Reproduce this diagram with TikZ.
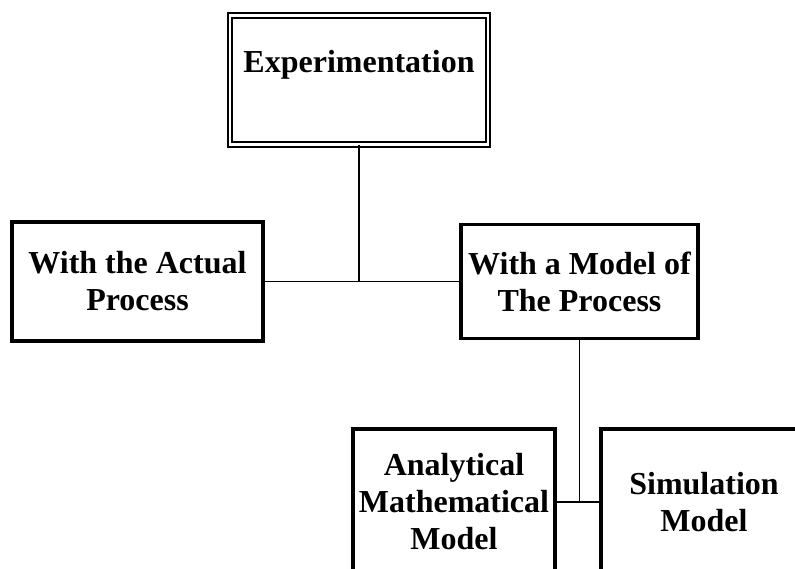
\documentclass[tikz,border=0pt]{standalone}
\usepackage{fontspec}
\setmainfont{Liberation Serif}
\usepackage{tikz}
\usetikzlibrary{calc,positioning}
\definecolor{expInk}{HTML}{000000}
\tikzset{
  expbox/.style={rectangle,draw=expInk,line width=3.2pt,fill=white,
                 inner sep=0pt,align=center,
                 font=\bfseries\fontsize{32}{37}\selectfont},
  exptop/.style={expbox,line width=2pt,double,double distance=2.4pt,
                 minimum width=258,text height=57,text depth=72},
  explink/.style={line width=1.9pt,expInk}
}

\begin{document}
\begin{tikzpicture}[x=1pt,y=-1pt]
    \clip (0,0) rectangle (795,569);
    \fill[white] (0,0) rectangle (795,569);

    \node[exptop] (exp) at (359,80) {Experimentation};
    \node[expbox,minimum width=251,minimum height=119] (actual)
      at (137.5,281.5) {With the Actual\\Process};
    \node[expbox,minimum width=237,minimum height=114] (model)
      at (579.5,281.5) {With a Model of\\The Process};
    \node[expbox,minimum width=202,minimum height=146] (anal)
      at (454,502) {Analytical\\Mathematical\\Model};
    \node[expbox,minimum width=206,minimum height=146] (sim)
      at (704,502) {Simulation\\Model};

    \draw[explink] (exp.south) -- (exp.south |- actual.east);
    \draw[explink] (actual.east) -- (model.west);
    \draw[explink] (model.south) -- (model.south |- anal.east);
    \draw[explink] (anal.east) -- (sim.west);
  \end{tikzpicture}
\end{document}
